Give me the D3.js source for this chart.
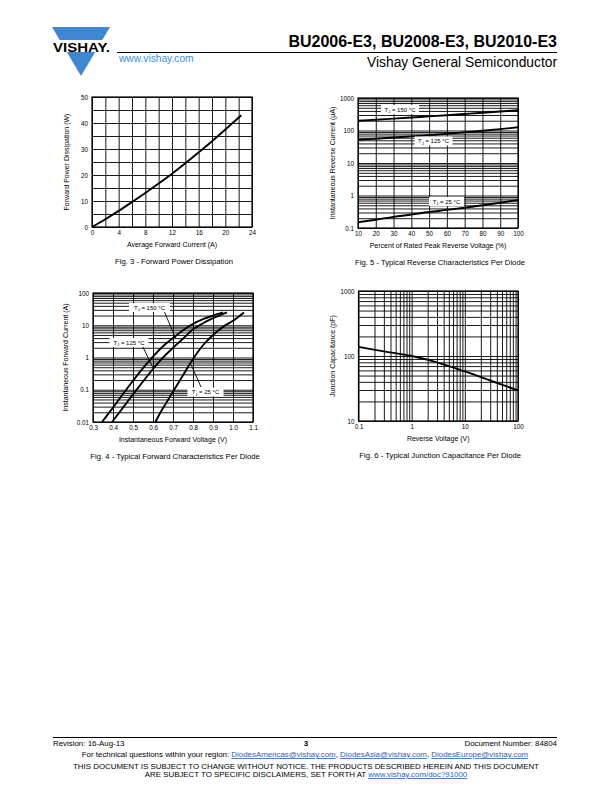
<!DOCTYPE html>
<html><head><meta charset="utf-8">
<script src="https://cdn.jsdelivr.net/npm/d3@7"></script>
<style>
body{margin:0;background:#fff;}
svg{display:block;font-family:"Liberation Sans",Arial,sans-serif;}
</style></head>
<body>
<script>
// ---------- DATA ----------
// Fig. 3 - Forward Power Dissipation
const fig3Current = [0, 2, 4, 6, 8, 10, 12, 14, 16, 18, 20, 22.4];
const fig3Power   = [0, 3.0, 6.2, 9.6, 13.1, 16.7, 20.5, 24.5, 28.7, 33.0, 37.5, 43];
const fig3XTicks = [0, 4, 8, 12, 16, 20, 24];
const fig3YTicks = [0, 10, 20, 30, 40, 50];

// Fig. 5 - Typical Reverse Characteristics
const fig5Percent = [10, 20, 30, 40, 50, 60, 70, 80, 90, 100];
const fig5T150 = [200, 215, 232, 250, 272, 295, 322, 352, 385, 420];
const fig5T125 = [52, 56, 61, 66, 72, 79, 88, 98, 110, 126];
const fig5T25  = [0.15, 0.18, 0.22, 0.26, 0.31, 0.36, 0.42, 0.5, 0.6, 0.72];
const fig5XTicks = [10, 20, 30, 40, 50, 60, 70, 80, 90, 100];
const fig5YTicks = [0.1, 1, 10, 100, 1000];

// Fig. 4 - Typical Forward Characteristics
const fig4V150 = [0.345, 0.40, 0.45, 0.50, 0.55, 0.60, 0.65, 0.70, 0.75, 0.80, 0.85, 0.90, 0.95];
const fig4I150 = [0.01, 0.028, 0.074, 0.19, 0.47, 1.07, 2.24, 4.0, 7.0, 11, 15.5, 20, 25];
const fig4V125 = [0.395, 0.45, 0.50, 0.55, 0.60, 0.65, 0.70, 0.75, 0.80, 0.85, 0.90, 0.97];
const fig4I125 = [0.01, 0.028, 0.072, 0.18, 0.44, 1.0, 2.0, 3.8, 7.5, 11.5, 16.5, 25];
const fig4V25  = [0.612, 0.65, 0.70, 0.75, 0.80, 0.85, 0.90, 0.95, 1.00, 1.055];
const fig4I25  = [0.01, 0.027, 0.087, 0.28, 0.9, 2.4, 5.0, 8.9, 13.8, 25];
const fig4XTicks = [0.3, 0.4, 0.5, 0.6, 0.7, 0.8, 0.9, 1.0, 1.1];
const fig4YTicks = [0.01, 0.1, 1, 10, 100];

// Fig. 6 - Typical Junction Capacitance
const fig6Voltage = [0.1, 0.3, 1, 3, 10, 30, 100];
const fig6Cap     = [138, 118, 100, 80, 58, 42, 29.5];
const fig6XTicks = [0.1, 1, 10, 100];
const fig6YTicks = [10, 100, 1000];

// ---------- DRAW ----------
const svg = d3.select("body").append("svg").attr("width", 612).attr("height", 792);
svg.append("rect").attr("width", 612).attr("height", 792).attr("fill", "#fff");

const FONT = "'Liberation Sans', Arial, sans-serif";

// Header
const logoBlue = "#3f87d2";
svg.append("path").attr("d", "M52,27 L110,27 L81,76 Z").attr("fill", logoBlue);
svg.append("rect").attr("x", 50).attr("y", 40).attr("width", 64).attr("height", 12).attr("fill", "#fff");
svg.append("text").attr("x", 53).attr("y", 51.5).attr("font-size", 13).attr("font-weight", "bold")
  .attr("textLength", 57).attr("lengthAdjust", "spacingAndGlyphs").text("VISHAY.");
svg.append("text").attr("x", 557).attr("y", 47).attr("text-anchor", "end").attr("font-size", 16)
  .attr("font-weight", "bold").text("BU2006-E3, BU2008-E3, BU2010-E3");
svg.append("line").attr("x1", 117).attr("x2", 557).attr("y1", 52.5).attr("y2", 52.5).attr("stroke", "#000").attr("stroke-width", 1);
svg.append("text").attr("x", 119).attr("y", 62).attr("font-size", 10.2).attr("fill", "#3a8ee6").text("www.vishay.com");
svg.append("text").attr("x", 557).attr("y", 67).attr("text-anchor", "end").attr("font-size", 13.8).text("Vishay General Semiconductor");

// Footer
const FS = 7.9;
svg.append("line").attr("x1", 53).attr("x2", 557).attr("y1", 737.5).attr("y2", 737.5).attr("stroke", "#000").attr("stroke-width", 1);
svg.append("text").attr("x", 53).attr("y", 746).attr("font-size", FS).text("Revision: 16-Aug-13");
svg.append("text").attr("x", 306).attr("y", 746).attr("font-size", FS).attr("font-weight", "bold").attr("text-anchor", "middle").text("3");
svg.append("text").attr("x", 557).attr("y", 746).attr("font-size", FS).attr("text-anchor", "end").text("Document Number: 84804");
const linkCol = "#1f5fbf";
const f2 = svg.append("text").attr("x", 305).attr("y", 757).attr("font-size", FS).attr("text-anchor", "middle");
f2.append("tspan").text("For technical questions within your region: ");
f2.append("tspan").attr("fill", linkCol).attr("text-decoration", "underline").text("DiodesAmericas@vishay.com");
f2.append("tspan").text(", ");
f2.append("tspan").attr("fill", linkCol).attr("text-decoration", "underline").text("DiodesAsia@vishay.com");
f2.append("tspan").text(", ");
f2.append("tspan").attr("fill", linkCol).attr("text-decoration", "underline").text("DiodesEurope@vishay.com");
svg.append("text").attr("x", 306).attr("y", 769).attr("font-size", FS).attr("text-anchor", "middle")
  .text("THIS DOCUMENT IS SUBJECT TO CHANGE WITHOUT NOTICE. THE PRODUCTS DESCRIBED HEREIN AND THIS DOCUMENT");
const f4 = svg.append("text").attr("x", 306).attr("y", 777).attr("font-size", FS).attr("text-anchor", "middle");
f4.append("tspan").text("ARE SUBJECT TO SPECIFIC DISCLAIMERS, SET FORTH AT ");
f4.append("tspan").attr("fill", linkCol).attr("text-decoration", "underline").text("www.vishay.com/doc?91000");

// Generic chart
function logMinors(lo, hi) {
  const out = [];
  for (let e = Math.round(Math.log10(lo)); e < Math.round(Math.log10(hi)); e++) {
    for (let k = 1; k <= 9; k++) out.push(k * Math.pow(10, e));
  }
  out.push(hi);
  return out;
}

function chart(o) {
  const g = svg.append("g");
  const x = o.x, y = o.y;
  const [x0, x1] = x.range(), [y0, y1] = y.range(); // y0 bottom, y1 top
  // grid
  g.append("g").attr("transform", `translate(0,${y0})`)
    .call(d3.axisBottom(x).tickValues(o.xGrid).tickSize(-(y0 - y1)).tickFormat(""))
    .call(s => s.select(".domain").remove())
    .call(s => s.selectAll("line").attr("stroke", "#000").attr("stroke-width", 0.9));
  g.append("g").attr("transform", `translate(${x0},0)`)
    .call(d3.axisLeft(y).tickValues(o.yGrid).tickSize(-(x1 - x0)).tickFormat(""))
    .call(s => s.select(".domain").remove())
    .call(s => s.selectAll("line").attr("stroke", "#000").attr("stroke-width", 0.9));
  g.append("rect").attr("x", x0).attr("y", y1).attr("width", x1 - x0).attr("height", y0 - y1)
    .attr("fill", "none").attr("stroke", "#000").attr("stroke-width", 1.2);
  // tick labels
  g.append("g").attr("transform", `translate(0,${y0})`)
    .call(d3.axisBottom(x).tickValues(o.xTicks).tickSize(0).tickPadding(4).tickFormat(o.xFmt))
    .call(s => s.select(".domain").remove())
    .call(s => s.selectAll("text").attr("font-family", FONT).attr("font-size", 6.3).attr("fill", "#000"));
  g.append("g").attr("transform", `translate(${x0},0)`)
    .call(d3.axisLeft(y).tickValues(o.yTicks).tickSize(0).tickPadding(4).tickFormat(o.yFmt))
    .call(s => s.select(".domain").remove())
    .call(s => s.selectAll("text").attr("font-family", FONT).attr("font-size", 6.3).attr("fill", "#000"));
  // titles
  g.append("text").attr("x", (x0 + x1) / 2).attr("y", y0 + 19.5).attr("text-anchor", "middle")
    .attr("font-size", 7).text(o.xTitle);
  g.append("text").attr("transform", `translate(${o.yTitleX},${(y0 + y1) / 2}) rotate(-90)`)
    .attr("text-anchor", "middle").attr("font-size", 7).text(o.yTitle);
  g.append("text").attr("x", (x0 + x1) / 2 + 2).attr("y", y0 + 37).attr("text-anchor", "middle")
    .attr("font-size", 7.7).text(o.caption);
  // curves
  const line = d3.line().x(d => x(d[0])).y(d => y(d[1])).curve(d3.curveCatmullRom.alpha(0.5));
  o.series.forEach(s => {
    g.append("path").datum(d3.zip(s[0], s[1])).attr("d", line)
      .attr("fill", "none").attr("stroke", "#000").attr("stroke-width", 1.9);
  });
  return g;
}

function tjLabel(g, cx, cy, w, temp) {
  g.append("rect").attr("x", cx - w / 2).attr("y", cy - 4.5).attr("width", w).attr("height", 9).attr("fill", "#fff");
  const t = g.append("text").attr("x", cx).attr("y", cy + 2).attr("text-anchor", "middle").attr("font-size", 6);
  t.append("tspan").text("T");
  t.append("tspan").attr("font-size", 4.2).attr("dy", 1.5).text("J");
  t.append("tspan").attr("dy", -1.5).text(" = " + temp + " °C");
}
function leader(g, xa, ya, xb, yb) {
  g.append("line").attr("x1", xa).attr("y1", ya).attr("x2", xb).attr("y2", yb)
    .attr("stroke", "#000").attr("stroke-width", 0.9);
}

const fmtPlain = d => String(d);

// Fig 3
chart({
  x: d3.scaleLinear().domain([0, 24]).range([92, 252]),
  y: d3.scaleLinear().domain([0, 50]).range([227, 97]),
  xGrid: d3.range(0, 25, 2), yGrid: d3.range(0, 51, 5),
  xTicks: fig3XTicks, yTicks: fig3YTicks, xFmt: fmtPlain, yFmt: fmtPlain,
  xTitle: "Average Forward Current (A)", yTitle: "Forward Power Dissipation (W)", yTitleX: 69,
  caption: "Fig. 3 - Forward Power Dissipation",
  series: [[fig3Current, fig3Power]]
});

// Fig 5
const g5 = chart({
  x: d3.scaleLinear().domain([10, 100]).range([358, 518]),
  y: d3.scaleLog().domain([0.1, 1000]).range([228, 98]),
  xGrid: fig5XTicks, yGrid: logMinors(0.1, 1000),
  xTicks: fig5XTicks, yTicks: fig5YTicks, xFmt: fmtPlain, yFmt: fmtPlain,
  xTitle: "Percent of Rated Peak Reverse Voltage (%)", yTitle: "Instantaneous Reverse Current (μA)", yTitleX: 335,
  caption: "Fig. 5 - Typical Reverse Characteristics Per Diode",
  series: [[fig5Percent, fig5T150], [fig5Percent, fig5T125], [fig5Percent, fig5T25]]
});
tjLabel(g5, 400, 109.5, 38, "150");
tjLabel(g5, 433.5, 141, 38, "125");
tjLabel(g5, 446.5, 201.5, 35, "25");

// Fig 4
const g4 = chart({
  x: d3.scaleLinear().domain([0.3, 1.1]).range([93, 253]),
  y: d3.scaleLog().domain([0.01, 100]).range([422, 293]),
  xGrid: fig4XTicks, yGrid: logMinors(0.01, 100),
  xTicks: fig4XTicks, yTicks: fig4YTicks, xFmt: d3.format(".1f"), yFmt: fmtPlain,
  xTitle: "Instantaneous Forward Voltage (V)", yTitle: "Instantaneous Forward Current (A)", yTitleX: 68,
  caption: "Fig. 4 - Typical Forward Characteristics Per Diode",
  series: [[fig4V150, fig4I150], [fig4V125, fig4I125], [fig4V25, fig4I25]]
});
leader(g4, 164.5, 312, 175.5, 338);
leader(g4, 143, 347, 153, 368);
leader(g4, 201, 387, 191, 364.5);
tjLabel(g4, 149.5, 307.5, 41, "150");
tjLabel(g4, 129, 342.5, 39, "125");
tjLabel(g4, 205.5, 392, 36, "25");

// Fig 6
chart({
  x: d3.scaleLog().domain([0.1, 100]).range([358.5, 518]),
  y: d3.scaleLog().domain([10, 1000]).range([421, 291]),
  xGrid: logMinors(0.1, 100), yGrid: logMinors(10, 1000),
  xTicks: fig6XTicks, yTicks: fig6YTicks, xFmt: fmtPlain, yFmt: fmtPlain,
  xTitle: "Reverse Voltage (V)", yTitle: "Junction Capacitance (pF)", yTitleX: 335,
  caption: "Fig. 6 - Typical Junction Capacitance Per Diode",
  series: [[fig6Voltage, fig6Cap]]
});
</script>
</body></html>
